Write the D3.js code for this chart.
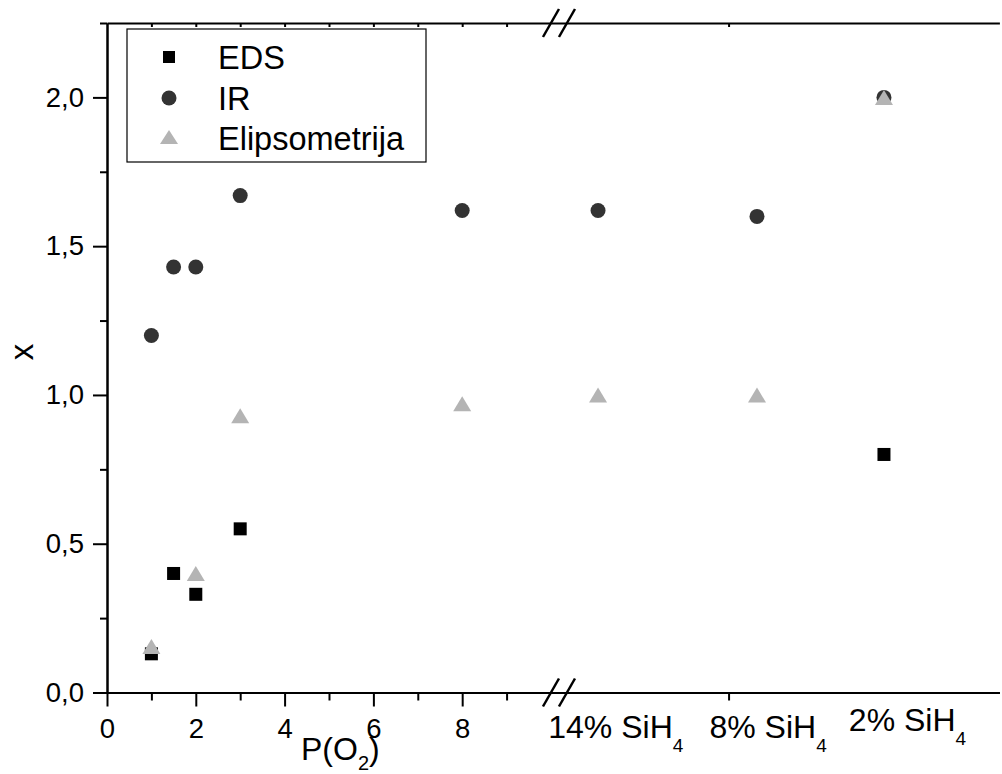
<!DOCTYPE html>
<html>
<head>
<meta charset="utf-8">
<script src="https://cdn.jsdelivr.net/npm/d3@7"></script>
<style>
  html, body { margin: 0; padding: 0; background: #fff; }
  svg { display: block; font-family: "Liberation Sans", Arial, Helvetica, sans-serif; }
</style>
</head>
<body>
<svg id="chart" width="1002" height="774"></svg>
<script>
// ---- data ----
const pO2 = [1, 1.5, 2, 3, 8];                       // left segment x values
const edsLeft = [0.13, 0.40, 0.33, 0.55, null];
const irLeft = [1.20, 1.43, 1.43, 1.67, 1.62];
const elipsLeft = [0.155, null, 0.40, 0.93, 0.97];

const sihCategories = ["14%", "8%", "2%"];            // right segment categories
const sihPositions = [11.06, 14.64, 17.5];            // where they sit on the broken axis
const sihLabelPositions = [11.46, 14.89, 18.03];
const edsRight = [null, null, 0.80];
const irRight = [1.62, 1.60, 2.00];
const elipsRight = [1.00, 1.00, 2.00];

const xMajorTicks = [0, 2, 4, 6, 8];
const xMinorTicks = [1, 3, 5, 7, 9, 14];
const xTopTicks = [1, 2, 3, 4, 5, 6, 7, 8, 9, 14];
const yMajorTicks = [0, 0.5, 1.0, 1.5, 2.0];
const yMinorTicks = [0.25, 0.75, 1.25, 1.75, 2.25];
const seriesNames = ["EDS", "IR", "Elipsometrija"];
const breakAt = 10.18;

// ---- layout ----
const svg = d3.select("#chart");
const x = d3.scaleLinear().domain([0, 20.1]).range([107, 999.4]);
const y = d3.scaleLinear().domain([0, 2.25]).range([692.5, 23]);

const fmtY = d => d3.format(".1f")(d).replace(".", ",");

function styleAxis(g) {
  g.selectAll("path, line").attr("stroke", "#000").attr("stroke-width", 2);
  g.selectAll("text").attr("fill", "#000").attr("font-size", 27.5)
    .attr("font-family", "'Liberation Sans', Arial, sans-serif");
}

// bottom axis
svg.append("g").attr("transform", `translate(0,${y(0)})`)
  .call(d3.axisBottom(x).tickValues(xMinorTicks).tickSize(8).tickSizeOuter(0).tickFormat(""))
  .call(styleAxis);
svg.append("g").attr("transform", `translate(0,${y(0)})`)
  .call(d3.axisBottom(x).tickValues(xMajorTicks).tickSize(14).tickSizeOuter(0).tickPadding(12).tickFormat(d3.format("d")))
  .call(styleAxis);
// top axis
svg.append("g").attr("transform", `translate(0,${y(2.25)})`)
  .call(d3.axisTop(x).tickValues(xTopTicks).tickSize(-4).tickSizeOuter(0).tickFormat(""))
  .call(styleAxis);
// left axis
svg.append("g").attr("transform", `translate(${x(0)},0)`)
  .call(d3.axisLeft(y).tickValues(yMinorTicks).tickSize(7).tickSizeOuter(0).tickFormat(""))
  .call(styleAxis);
svg.append("g").attr("transform", `translate(${x(0)},0)`)
  .call(d3.axisLeft(y).tickValues(yMajorTicks).tickSize(14).tickSizeOuter(0).tickPadding(9).tickFormat(fmtY))
  .call(styleAxis);

// axis break marks
[y(0), y(2.25)].forEach(yy => {
  [-8, 8].forEach(off => {
    const cx = x(breakAt) + off;
    svg.append("line")
      .attr("x1", cx - 8).attr("y1", yy + 14)
      .attr("x2", cx + 8).attr("y2", yy - 14)
      .attr("stroke", "#000").attr("stroke-width", 2.5);
  });
});

// category labels on the right segment
const catLab = svg.append("g").attr("font-size", 32).attr("fill", "#000");
sihCategories.forEach((c, i) => {
  const base = i === 2 ? 731 : 738;
  const t = catLab.append("text")
    .attr("x", x(sihLabelPositions[i])).attr("y", base)
    .attr("text-anchor", "middle");
  t.append("tspan").text(c + " SiH");
  t.append("tspan").attr("font-size", 19).attr("dy", 14).text("4");
});

// axis titles
const xt = svg.append("text").attr("x", 301).attr("y", 760).attr("font-size", 32).attr("fill", "#000");
xt.append("tspan").text("P(O");
xt.append("tspan").attr("font-size", 20).attr("dy", 10).text("2");
xt.append("tspan").attr("dy", -10).text(")");

svg.append("text")
  .attr("transform", "translate(33,352) rotate(-90)")
  .attr("text-anchor", "middle")
  .attr("font-size", 33).attr("fill", "#000")
  .text("x");

// ---- markers ----
function pts(left, right) {
  const out = [];
  pO2.forEach((p, i) => { if (left[i] != null) out.push({ x: p, y: left[i] }); });
  sihPositions.forEach((p, i) => { if (right[i] != null) out.push({ x: p, y: right[i] }); });
  return out;
}
const triPath = (w, h) => `M0,${-h / 2}L${w / 2},${h / 2}L${-w / 2},${h / 2}Z`;

const plot = svg.append("g");
plot.selectAll("rect.eds").data(pts(edsLeft, edsRight)).enter().append("rect")
  .attr("x", d => x(d.x) - 6.5).attr("y", d => y(d.y) - 6.5)
  .attr("width", 13).attr("height", 13).attr("fill", "#000");
plot.selectAll("circle.ir").data(pts(irLeft, irRight)).enter().append("circle")
  .attr("cx", d => x(d.x)).attr("cy", d => y(d.y)).attr("r", 7.5).attr("fill", "#333");
plot.selectAll("path.el").data(pts(elipsLeft, elipsRight)).enter().append("path")
  .attr("transform", d => `translate(${x(d.x)},${y(d.y)})`)
  .attr("d", triPath(18, 15)).attr("fill", "#b4b4b4");

// ---- legend ----
const lg = svg.append("g");
lg.append("rect").attr("x", 127).attr("y", 29).attr("width", 299).attr("height", 133)
  .attr("fill", "#fff").attr("stroke", "#000").attr("stroke-width", 1.2);
const rowY = [57, 98, 138];
lg.append("rect").attr("x", 169 - 6).attr("y", rowY[0] - 6).attr("width", 12).attr("height", 12).attr("fill", "#000");
lg.append("circle").attr("cx", 169).attr("cy", rowY[1]).attr("r", 7.5).attr("fill", "#333");
lg.append("path").attr("transform", `translate(169,${rowY[2] - 1})`).attr("d", triPath(18, 14)).attr("fill", "#b4b4b4");
seriesNames.forEach((n, i) => {
  lg.append("text").attr("x", 218).attr("y", rowY[i] + 11.5).attr("font-size", 32.5)
    .attr("fill", "#000").text(n);
});
</script>
</body>
</html>
